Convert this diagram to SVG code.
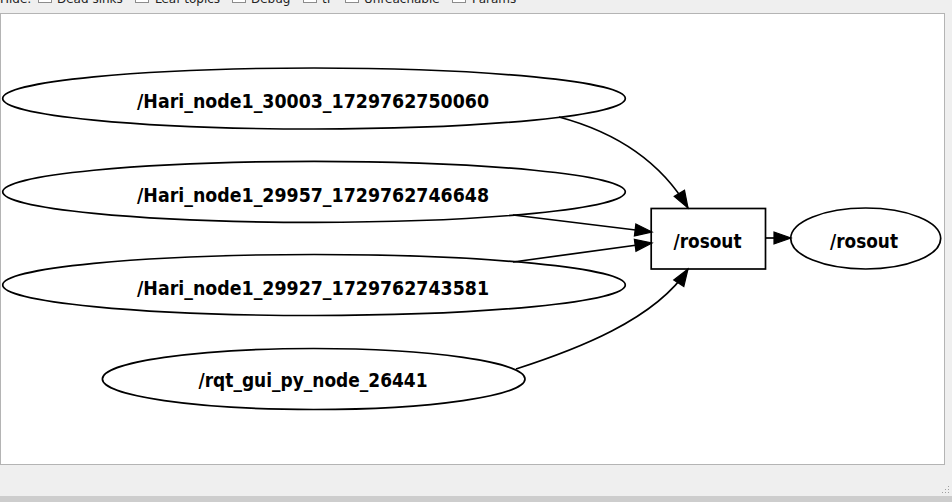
<svg xmlns="http://www.w3.org/2000/svg" width="952" height="502" viewBox="0 0 952 502">
<style>
.node-shape{fill:none;stroke:#000;stroke-width:1.7}
.lbl{font-family:"DejaVu Sans","Liberation Sans",sans-serif;font-weight:bold;font-size:20px;font-stretch:condensed;text-anchor:middle;fill:#000}
.edge{fill:none;stroke:#000;stroke-width:1.7}
.tb{font-family:"DejaVu Sans","Liberation Sans",sans-serif;font-size:12px;fill:#222}
.cb{fill:#fff;stroke:#8c8c8c;stroke-width:1}
</style>
<defs>
<marker id="arr" markerUnits="userSpaceOnUse" markerWidth="20" markerHeight="14" refX="17" refY="6" orient="auto" overflow="visible">
<path d="M0,0 L17,6 L0,12 Z" fill="#000" stroke="#000" stroke-width="1.2"/>
</marker>
</defs>
<rect x="0" y="0" width="952" height="502" fill="#efefef"/>
<rect x="0" y="496" width="952" height="6" fill="#cdcdcd"/>
<g id="toolbar">
<text class="tb" x="0" y="3">Hide:</text>
<rect class="cb" x="38.5" y="-10.5" width="13" height="13"/>
<text class="tb" x="57" y="3">Dead sinks</text>
<rect class="cb" x="135.5" y="-10.5" width="13" height="13"/>
<text class="tb" x="155" y="3">Leaf topics</text>
<rect class="cb" x="232.5" y="-10.5" width="13" height="13"/>
<text class="tb" x="251" y="3">Debug</text>
<rect class="cb" x="303.5" y="-10.5" width="13" height="13"/>
<text class="tb" x="322" y="3">tf</text>
<rect class="cb" x="345.5" y="-10.5" width="13" height="13"/>
<text class="tb" x="364" y="3">Unreachable</text>
<rect class="cb" x="452.5" y="-10.5" width="13" height="13"/>
<text class="tb" x="472" y="3">Params</text>
</g>
<rect x="0.5" y="13.5" width="944" height="451" fill="#fff" stroke="#b4b4b4" stroke-width="1"/>
<g id="grip" fill="#a0a0a0">
<rect x="948" y="486" width="1" height="1"/>
<rect x="945" y="489" width="1" height="1"/><rect x="948" y="489" width="1" height="1"/>
<rect x="942" y="492" width="1" height="1"/><rect x="945" y="492" width="1" height="1"/><rect x="948" y="492" width="1" height="1"/>
</g>
<g id="connectors">
<path class="edge" marker-end="url(#arr)" d="M559,117 C600,128 655,152 688,208"/>
<path class="edge" marker-end="url(#arr)" d="M513,215 L652,232"/>
<path class="edge" marker-end="url(#arr)" d="M513,262 L652,243"/>
<path class="edge" marker-end="url(#arr)" d="M516,369 C575,350 655,320 688,269"/>
<path class="edge" marker-end="url(#arr)" d="M766,238 L791,238"/>
</g>
<g id="node_hari_30003">
<ellipse class="node-shape" cx="314" cy="98.5" rx="311.3" ry="30.5"/>
<text class="lbl" x="313" y="108.3" textLength="352" lengthAdjust="spacingAndGlyphs">/Hari_node1_30003_1729762750060</text>
</g>
<g id="node_hari_29957">
<ellipse class="node-shape" cx="314" cy="191.8" rx="311.3" ry="30.5"/>
<text class="lbl" x="313" y="201.6" textLength="352" lengthAdjust="spacingAndGlyphs">/Hari_node1_29957_1729762746648</text>
</g>
<g id="node_hari_29927">
<ellipse class="node-shape" cx="314" cy="285" rx="311.3" ry="30.5"/>
<text class="lbl" x="313" y="294.8" textLength="352" lengthAdjust="spacingAndGlyphs">/Hari_node1_29927_1729762743581</text>
</g>
<g id="node_rqt_gui">
<ellipse class="node-shape" cx="313.7" cy="379" rx="211.3" ry="30.5"/>
<text class="lbl" x="313" y="386.5" textLength="229" lengthAdjust="spacingAndGlyphs">/rqt_gui_py_node_26441</text>
</g>
<g id="topic_rosout">
<rect class="node-shape" x="651.2" y="208.5" width="114.3" height="60.5"/>
<text class="lbl" x="707.5" y="247.5" textLength="68" lengthAdjust="spacingAndGlyphs">/rosout</text>
</g>
<g id="node_rosout">
<ellipse class="node-shape" cx="865.7" cy="238.5" rx="75" ry="30.5"/>
<text class="lbl" x="864" y="247.5" textLength="68" lengthAdjust="spacingAndGlyphs">/rosout</text>
</g>
</svg>
